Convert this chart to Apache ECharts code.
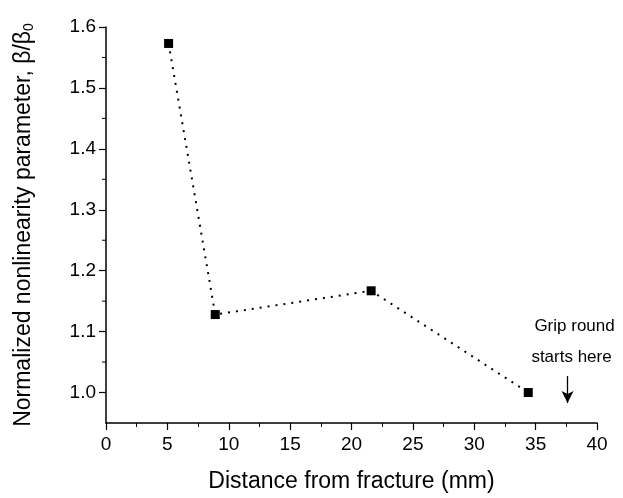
<!DOCTYPE html>
<html>
<head>
<meta charset="utf-8">
<script src="https://cdn.jsdelivr.net/npm/echarts@6/dist/echarts.min.js"></script>
<style>
  html, body { margin: 0; padding: 0; background: #fff; }
  #chart { width: 623px; height: 498px; }
</style>
</head>
<body>
<div id="chart"></div>
<script>
// data
const distance = [5.1, 8.9, 21.6, 34.4];
const betaRatio = [1.573, 1.128, 1.167, 1.0];
const yTicks = [1.0, 1.1, 1.2, 1.3, 1.4, 1.5, 1.6];
const yMinorTicks = [1.05, 1.15, 1.25, 1.35, 1.45, 1.55];
const gripX = 37.6;
const gripArrow = [1.027, 0.983];
const gripText = ['Grip round', 'starts here'];

const font = 'Liberation Sans, Arial, Helvetica, sans-serif';
const chart = echarts.init(document.getElementById('chart'));

chart.setOption({
  backgroundColor: '#fff',
  animation: false,
  textStyle: { fontFamily: font, color: '#000' },
  grid: { left: 106, right: 26, top: 27, bottom: 75 },
  xAxis: {
    type: 'value',
    min: 0, max: 40, interval: 5,
    name: 'Distance from fracture (mm)',
    nameLocation: 'middle',
    nameGap: 47,
    nameTextStyle: { fontSize: 23, color: '#000', fontFamily: font },
    axisLine: { lineStyle: { color: '#000', width: 1.5 } },
    axisTick: { length: 7, lineStyle: { color: '#000', width: 1.2 } },
    minorTick: { show: true, splitNumber: 2, length: 4, lineStyle: { color: '#000', width: 1 } },
    axisLabel: { fontSize: 19, color: '#000', margin: 12, fontFamily: font },
    splitLine: { show: false }
  },
  yAxis: {
    type: 'value',
    min: 0.95, max: 1.6,
    interval: 0.05,
    name: '{t|Normalized nonlinearity parameter, β/β}{s|0}',
    nameLocation: 'middle',
    nameGap: 70,
    nameRotate: 90,
    nameTextStyle: {
      fontFamily: font,
      rich: {
        t: { fontSize: 23, color: '#000', fontFamily: font },
        s: { fontSize: 14, color: '#000', fontFamily: font, padding: [10, 0, 0, 0] }
      }
    },
    axisLine: { show: true, lineStyle: { color: '#000', width: 1.5 } },
    axisTick: {
      show: true, length: 7,
      lineStyle: { color: '#000', width: 1.2 },
      customValues: yTicks
    },
    axisLabel: {
      fontSize: 19, color: '#000', margin: 10, fontFamily: font,
      customValues: yTicks,
      formatter: (v) => v.toFixed(1)
    },
    splitLine: { show: false }
  },
  series: [
    {
      type: 'line',
      data: distance.map((x, i) => [x, betaRatio[i]]),
      symbol: 'rect',
      symbolSize: 9,
      itemStyle: { color: '#000' },
      lineStyle: { color: '#000', width: 2, type: [2, 6] },
      markLine: {
        silent: true,
        symbol: ['none', 'arrow'],
        symbolSize: [9, 12],
        label: { show: false },
        lineStyle: { color: '#000', width: 1.3, type: 'solid' },
        data: [[{ coord: [gripX, gripArrow[0]] }, { coord: [gripX, gripArrow[1]] }]]
      }
    }
  ]
});

// minor ticks on y axis and the annotation text
function addExtras() {
  const els = [];
  const x0 = chart.convertToPixel({ xAxisIndex: 0 }, 0);
  yMinorTicks.forEach((v) => {
    const y = chart.convertToPixel({ yAxisIndex: 0 }, v);
    els.push({ type: 'line', shape: { x1: x0 - 4, y1: y, x2: x0, y2: y }, style: { stroke: '#000', lineWidth: 1 } });
  });
  const gx = chart.convertToPixel({ xAxisIndex: 0 }, gripX);
  els.push({
    type: 'text', x: gx + 7, y: 326,
    style: { text: gripText[0], font: '17px ' + font, fill: '#000', align: 'center', verticalAlign: 'middle' }
  });
  els.push({
    type: 'text', x: gx + 4, y: 357,
    style: { text: gripText[1], font: '17px ' + font, fill: '#000', align: 'center', verticalAlign: 'middle' }
  });
  chart.setOption({ graphic: els });
}
addExtras();
</script>
</body>
</html>
